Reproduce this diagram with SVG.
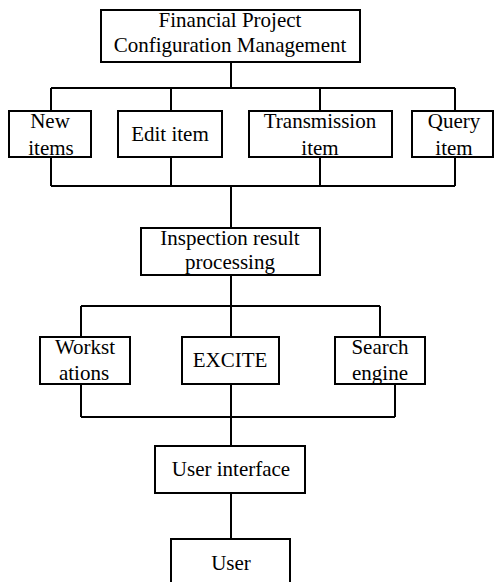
<svg xmlns="http://www.w3.org/2000/svg" width="494" height="582" viewBox="0 0 494 582">
  <style>
    .box { fill: #ffffff; stroke: #000000; stroke-width: 2; }
    .wire { fill: none; stroke: #000000; stroke-width: 2; }
    text { font-family: "Liberation Serif", "Times New Roman", serif; font-size: 21px; fill: #000000; text-anchor: middle; }
  </style>
  <rect width="494" height="582" fill="#ffffff"/>

  <!-- connectors -->
  <g id="connectors" class="wire">
    <path d="M231 62 V88 M51 88 H455 M51 88 V111 M171 88 V111 M320 88 V111 M455 88 V111"/>
    <path d="M51 157 V186 M171 157 V186 M320 157 V186 M455 157 V186 M51 186 H455 M231 186 V228"/>
    <path d="M231 275 V306 M81 306 H380 M81 306 V337 M231 306 V337 M380 306 V337"/>
    <path d="M81 384 V417 M231 384 V417 M395 384 V417 M81 417 H395 M231 417 V446"/>
    <path d="M231 493 V539"/>
  </g>

  <!-- nodes -->
  <g id="config-management">
    <rect class="box" x="101" y="10" width="259" height="52"/>
    <text x="230" y="27">Financial Project</text>
    <text x="230" y="52">Configuration Management</text>
  </g>
  <g id="new-items">
    <rect class="box" x="9" y="111" width="82" height="46"/>
    <text x="50" y="128">New</text>
    <text x="51" y="155">items</text>
  </g>
  <g id="edit-item">
    <rect class="box" x="118" y="111" width="104" height="46"/>
    <text x="170" y="141">Edit item</text>
  </g>
  <g id="transmission-item">
    <rect class="box" x="249" y="111" width="143" height="46"/>
    <text x="320" y="128">Transmission</text>
    <text x="320" y="155">item</text>
  </g>
  <g id="query-item">
    <rect class="box" x="412" y="111" width="81" height="46"/>
    <text x="454" y="128">Query</text>
    <text x="454" y="155">item</text>
  </g>
  <g id="inspection">
    <rect class="box" x="141" y="228" width="179" height="47"/>
    <text x="230" y="245">Inspection result</text>
    <text x="230" y="269">processing</text>
  </g>
  <g id="workstations">
    <rect class="box" x="40" y="337" width="90" height="47"/>
    <text x="85" y="354">Workst</text>
    <text x="84" y="380">ations</text>
  </g>
  <g id="excite">
    <rect class="box" x="182" y="337" width="97" height="47"/>
    <text x="230" y="367">EXCITE</text>
  </g>
  <g id="search-engine">
    <rect class="box" x="335" y="337" width="90" height="47"/>
    <text x="380" y="354">Search</text>
    <text x="380" y="380">engine</text>
  </g>
  <g id="user-interface">
    <rect class="box" x="155" y="446" width="150" height="47"/>
    <text x="231" y="476">User interface</text>
  </g>
  <g id="user">
    <rect class="box" x="171" y="539" width="119" height="60"/>
    <text x="231" y="570">User</text>
  </g>
</svg>
